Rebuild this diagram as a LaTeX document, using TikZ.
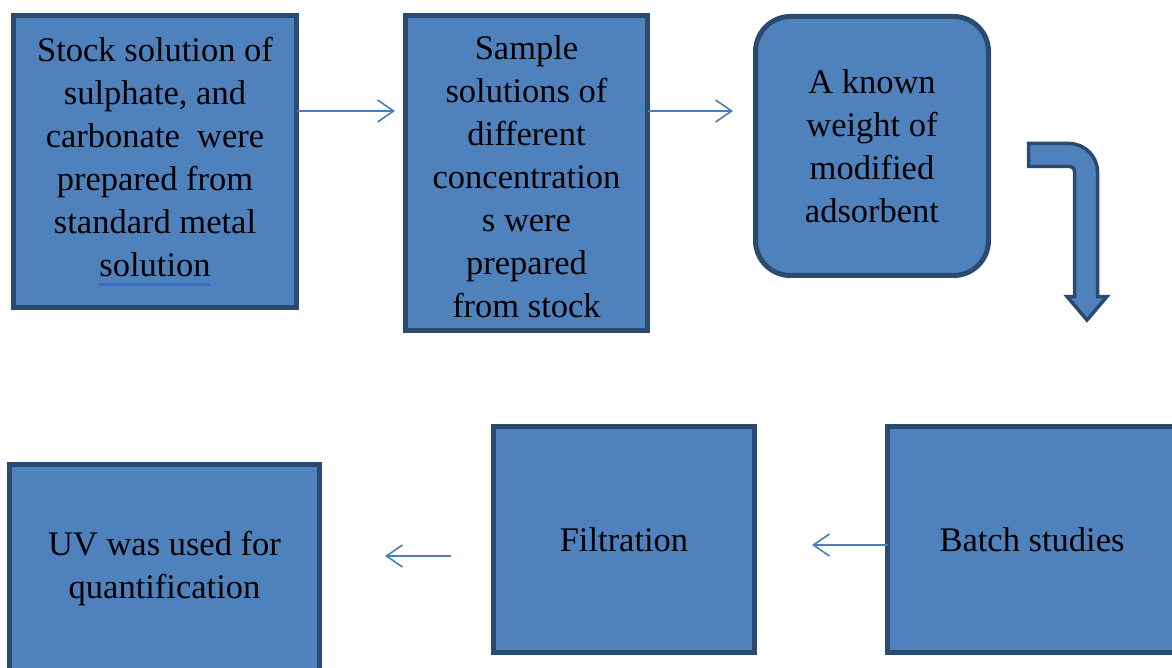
\documentclass[tikz,border=0pt]{standalone}
\usepackage{fontspec}
\setmainfont{Liberation Serif}
\usetikzlibrary{arrows.meta}

\definecolor{boxfill}{HTML}{4F81BD}
\definecolor{boxline}{HTML}{2A4A70}
\definecolor{linkblue}{HTML}{4A7EBB}
\definecolor{markblue}{HTML}{3A6BD0}

% word with a blue mark line under it
\newcommand{\markedword}[1]{\setbox0\hbox{#1}\rlap{\color{markblue}\rule[-10pt]{\wd0}{3.5pt}}\box0}

\tikzset{
  stage/.style={draw=boxline, fill=boxfill, line width=5pt, inner sep=0pt,
    outer sep=0pt, align=center, font=\fontsize{34.5}{43}\selectfont},
  link/.style={draw=linkblue, line width=1.6pt,
    -{Straight Barb[length=16pt,width=22pt,line width=1.6pt]}},
  blockarrow/.style={draw=boxline, fill=boxfill, line width=3.5pt, line join=miter},
}

\begin{document}
\begin{tikzpicture}[x=1pt, y=-1pt]
  \useasboundingbox (0,0) rectangle (1172,668);
  \clip (0,0) rectangle (1172,668);

  % top row
  \node[stage, minimum width=283pt, minimum height=292pt] (stock) at (155,161.5)
    {Stock solution of\\sulphate, and\\carbonate~ were\\prepared from\\standard metal\\\markedword{solution}};
  \node[stage, minimum width=242pt, minimum height=315pt] (sample) at (526.5,173)
    {\rule{0pt}{32pt}Sample\\solutions of\\different\\concentration\\s were\\prepared\\from stock};
  \node[stage, rounded corners=35pt, minimum width=233pt, minimum height=259pt] (weight) at (872,146)
    {A known\\weight of\\modified\\adsorbent};

  % bottom row
  \node[stage, minimum width=289pt, minimum height=226pt] (batch) at (1032,539.5) {Batch studies};
  \node[stage, minimum width=261pt, minimum height=226pt] (filter) at (624,539.5) {Filtration};
  \node[stage, minimum width=310pt, minimum height=209pt] (uv) at (164.5,569)
    {UV was used for\\quantification};

  % bent block arrow leading down to the second row
  \draw[blockarrow] (1028.5,143.5) -- (1069,143.5)
    .. controls (1084.7,143.5) and (1097.5,156.3) .. (1097.5,172)
    -- (1097.5,296.5) -- (1107,296.5) -- (1087,320) -- (1067,296.5) -- (1074.5,296.5)
    -- (1074.5,172) .. controls (1074.5,168.5) and (1072.5,166.5) .. (1069,166.5)
    -- (1028.5,166.5) -- cycle;

  % thin connectors
  \coordinate (a1) at (395,111);
  \coordinate (a2) at (733,111);
  \coordinate (a3) at (812,545);
  \coordinate (a4s) at (451,556);
  \coordinate (a4e) at (385,556);

  \draw[link] (stock.east |- a1) -- (a1);
  \draw[link] (sample.east |- a2) -- (a2);
  \draw[link] (batch.west |- a3) -- (a3);
  \draw[link] (a4s) -- (a4e);
\end{tikzpicture}
\end{document}
